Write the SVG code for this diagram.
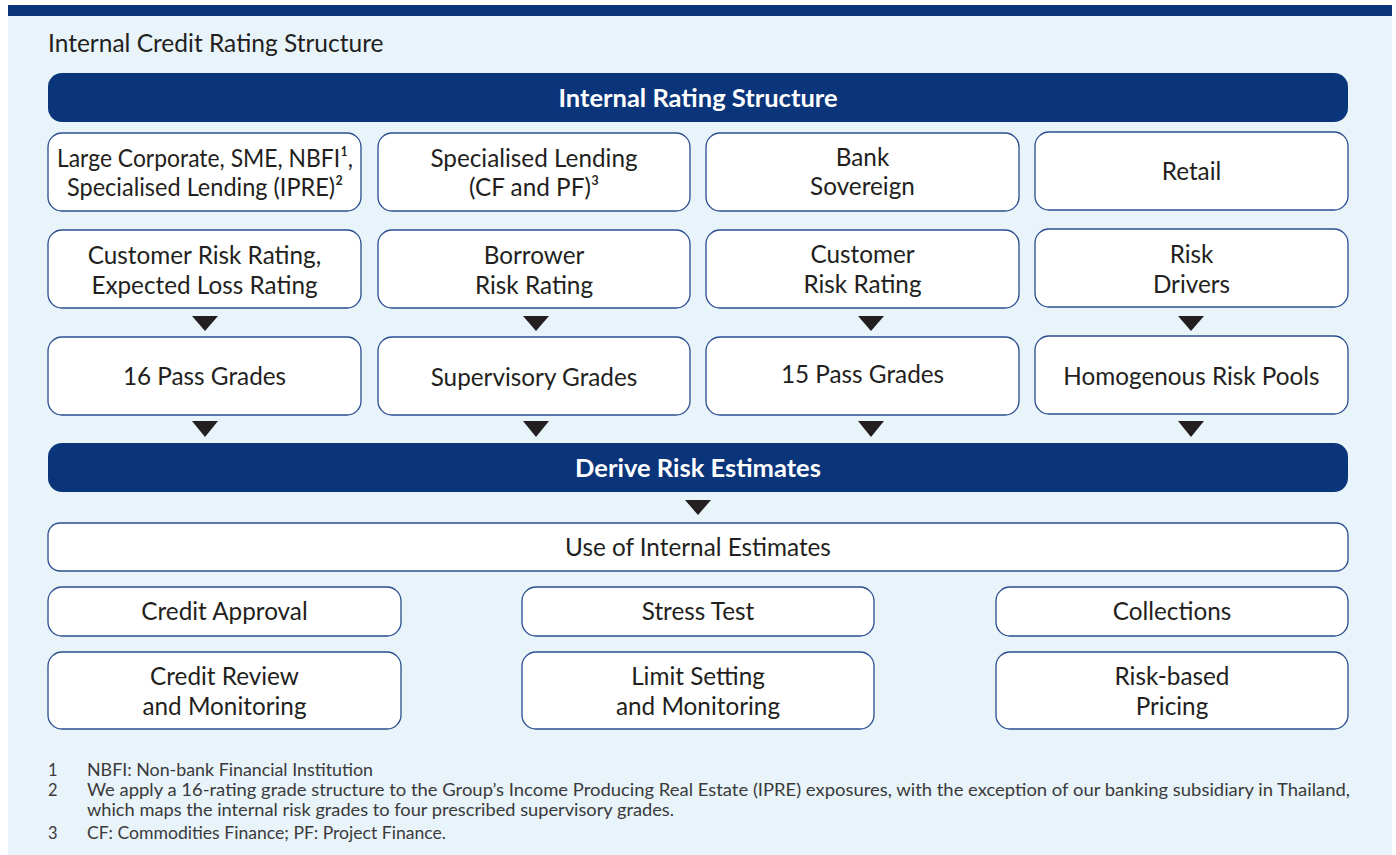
<svg xmlns="http://www.w3.org/2000/svg" width="1396" height="855" viewBox="0 0 1396 855">
<defs>
<style>
.bg{fill:#e8f3fa}
.band{fill:#0b357a}
.box{fill:#ffffff;stroke:#2a4d8f;stroke-width:1.3}
.t{font-family:Lato,"Open Sans",sans-serif;font-size:24.3px;fill:#231f20;text-anchor:middle}
.h{font-family:Lato,"Open Sans",sans-serif;font-size:25.5px;font-weight:bold;fill:#ffffff;text-anchor:middle}
.title{font-family:Lato,"Open Sans",sans-serif;font-size:24.5px;fill:#231f20}
.fn{font-family:Lato,"Open Sans",sans-serif;font-size:16.4px;fill:#3a3a3a}
.arr{fill:#231f20}
</style>
</defs>
<rect x="8" y="5" width="1384" height="850" class="bg"/>
<rect x="8" y="5" width="1384" height="11" class="band"/>
<text x="48" y="52" class="title">Internal Credit Rating Structure</text>

<g id="header-internal-rating">
<rect x="48" y="73" width="1300" height="49" rx="14" class="band"/>
<text x="698" y="107" class="h">Internal Rating Structure</text>
</g>

<g id="n-large-corporate">
<rect x="48" y="133" width="313" height="78" rx="14" class="box"/>
<text x="57" y="167" class="t" style="text-anchor:start" textLength="296" lengthAdjust="spacingAndGlyphs">Large Corporate, SME, NBFI¹,</text>
<text x="67" y="196" class="t" style="text-anchor:start" textLength="276" lengthAdjust="spacingAndGlyphs">Specialised Lending (IPRE)²</text>
</g>
<g id="n-specialised-lending">
<rect x="378" y="133" width="312" height="78" rx="14" class="box"/>
<text x="534" y="167" class="t">Specialised Lending</text>
<text x="534" y="196" class="t">(CF and PF)³</text>
</g>
<g id="n-bank-sovereign">
<rect x="706" y="133" width="313" height="78" rx="14" class="box"/>
<text x="862.5" y="166" class="t">Bank</text>
<text x="862.5" y="195" class="t">Sovereign</text>
</g>
<g id="n-retail">
<rect x="1035" y="132" width="313" height="78" rx="14" class="box"/>
<text x="1191.5" y="180" class="t">Retail</text>
</g>

<g id="n-crr-elr">
<rect x="48" y="230" width="313" height="78" rx="14" class="box"/>
<text x="204.5" y="264" class="t">Customer Risk Rating,</text>
<text x="204.5" y="294" class="t">Expected Loss Rating</text>
</g>
<g id="n-borrower-rr">
<rect x="378" y="230" width="312" height="78" rx="14" class="box"/>
<text x="534" y="264" class="t">Borrower</text>
<text x="534" y="294" class="t">Risk Rating</text>
</g>
<g id="n-customer-rr">
<rect x="706" y="230" width="313" height="78" rx="14" class="box"/>
<text x="862.5" y="263" class="t">Customer</text>
<text x="862.5" y="293" class="t">Risk Rating</text>
</g>
<g id="n-risk-drivers">
<rect x="1035" y="229" width="313" height="78" rx="14" class="box"/>
<text x="1191.5" y="263" class="t">Risk</text>
<text x="1191.5" y="293" class="t">Drivers</text>
</g>

<g id="n-16-pass">
<rect x="48" y="337" width="313" height="78" rx="14" class="box"/>
<text x="204.5" y="385" class="t">16 Pass Grades</text>
</g>
<g id="n-supervisory">
<rect x="378" y="337" width="312" height="78" rx="14" class="box"/>
<text x="534" y="386" class="t">Supervisory Grades</text>
</g>
<g id="n-15-pass">
<rect x="706" y="337" width="313" height="78" rx="14" class="box"/>
<text x="862.5" y="383" class="t">15 Pass Grades</text>
</g>
<g id="n-homogenous">
<rect x="1035" y="336" width="313" height="78" rx="14" class="box"/>
<text x="1191.5" y="385" class="t">Homogenous Risk Pools</text>
</g>

<g id="n-derive">
<rect x="48" y="443" width="1300" height="49" rx="14" class="band"/>
<text x="698" y="477" class="h">Derive Risk Estimates</text>
</g>

<g id="n-use">
<rect x="48" y="523" width="1300" height="48" rx="12" class="box"/>
<text x="698" y="556" class="t">Use of Internal Estimates</text>
</g>

<g id="n-credit-approval">
<rect x="48" y="587" width="353" height="49" rx="14" class="box"/>
<text x="224.5" y="620" class="t">Credit Approval</text>
</g>
<g id="n-stress-test">
<rect x="522" y="587" width="352" height="49" rx="14" class="box"/>
<text x="698" y="620" class="t">Stress Test</text>
</g>
<g id="n-collections">
<rect x="996" y="587" width="352" height="49" rx="14" class="box"/>
<text x="1172" y="620" class="t">Collections</text>
</g>
<g id="n-credit-review">
<rect x="48" y="652" width="353" height="77" rx="14" class="box"/>
<text x="224.5" y="685" class="t">Credit Review</text>
<text x="224.5" y="715" class="t">and Monitoring</text>
</g>
<g id="n-limit-setting">
<rect x="522" y="652" width="352" height="77" rx="14" class="box"/>
<text x="698" y="685" class="t">Limit Setting</text>
<text x="698" y="715" class="t">and Monitoring</text>
</g>
<g id="n-risk-pricing">
<rect x="996" y="652" width="352" height="77" rx="14" class="box"/>
<text x="1172" y="685" class="t">Risk-based</text>
<text x="1172" y="715" class="t">Pricing</text>
</g>

<g id="connectors" class="arr">
<polygon points="192,316 218,316 205,331"/>
<polygon points="523,316 549,316 536,331"/>
<polygon points="858,316 884,316 871,331"/>
<polygon points="1178,316 1204,316 1191,331"/>
<polygon points="192,421 218,421 205,437"/>
<polygon points="523,421 549,421 536,437"/>
<polygon points="858,421 884,421 871,437"/>
<polygon points="1178,421 1204,421 1191,437"/>
<polygon points="685,500 711,500 698,515"/>
</g>

<g id="footnotes">
<text x="48" y="776" class="fn">1</text>
<text x="87" y="776" class="fn" textLength="286" lengthAdjust="spacingAndGlyphs">NBFI: Non-bank Financial Institution</text>
<text x="48" y="796" class="fn">2</text>
<text x="87" y="796" class="fn" textLength="1263" lengthAdjust="spacingAndGlyphs">We apply a 16-rating grade structure to the Group’s Income Producing Real Estate (IPRE) exposures, with the exception of our banking subsidiary in Thailand,</text>
<text x="87" y="816" class="fn" textLength="587" lengthAdjust="spacingAndGlyphs">which maps the internal risk grades to four prescribed supervisory grades.</text>
<text x="48" y="839" class="fn">3</text>
<text x="87" y="839" class="fn" textLength="359" lengthAdjust="spacingAndGlyphs">CF: Commodities Finance; PF: Project Finance.</text>
</g>
</svg>
